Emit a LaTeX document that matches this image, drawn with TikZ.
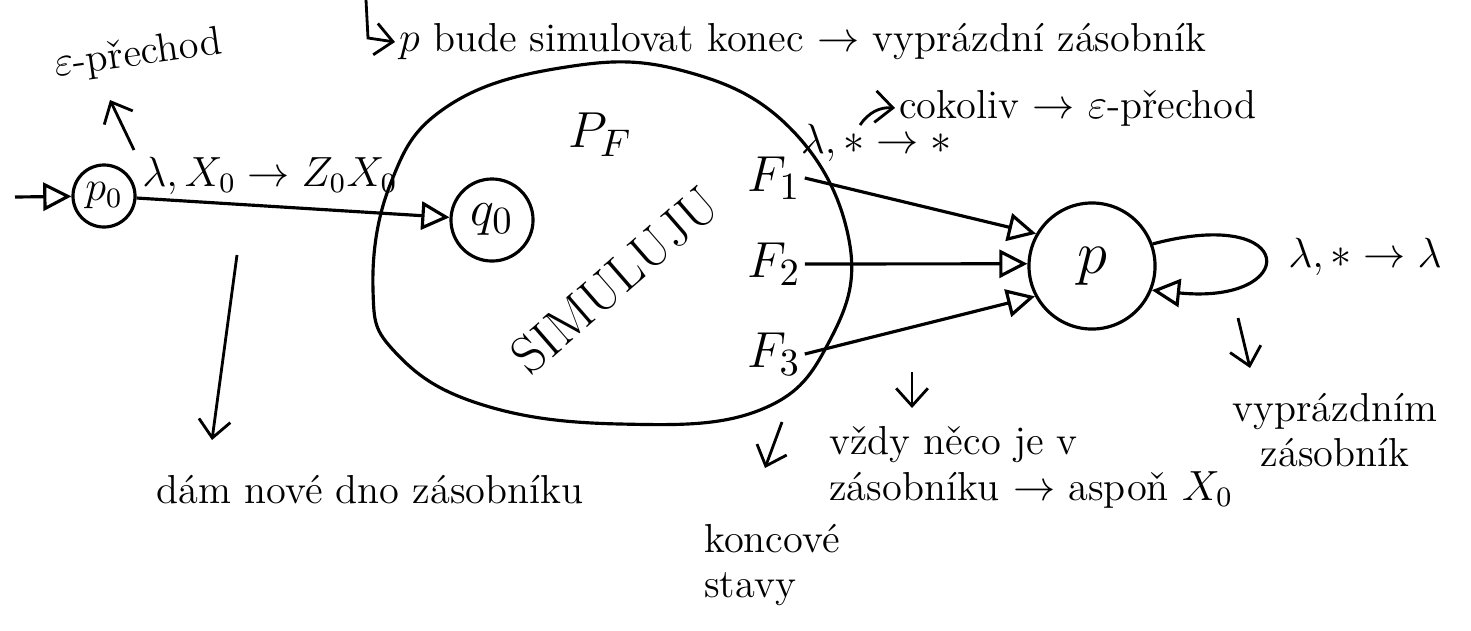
\documentclass[tikz,border=0pt]{standalone}
\usepackage{fontspec}
\usetikzlibrary{arrows.meta}
\begin{document}
\begin{tikzpicture}[x=0.01cm,y=-0.01cm,
  st/.style={draw, circle, line width=0.9pt, inner sep=0pt},
  tr/.style={-{Triangle[open,length=8pt,width=8pt]}, line width=0.9pt},
  note/.style={-{Straight Barb[length=5pt,width=9pt]}, line width=0.8pt},
  txt/.style={font=\fontsize{11.5}{13}\selectfont, inner sep=1pt},
  big/.style={font=\fontsize{15}{18}\selectfont, inner sep=1pt},
]
\useasboundingbox (0,0) rectangle (1471,630);
% blob
\draw[line width=0.9pt] plot[smooth cycle, tension=0.7] coordinates {
  (373,290) (390,185) (445,108) (560,68) (680,70) (790,128) (849,240)
  (830,340) (760,410) (620,424) (480,404) (395,352)};
% states
\node[st, minimum size=0.62cm, font=\fontsize{12}{14}\selectfont] (p0) at (104,196) {$p_0$};
\node[st, minimum size=0.82cm, font=\fontsize{15}{18}\selectfont] (q0) at (492,220) {$q_0$};
\node[st, minimum size=1.26cm, font=\fontsize{16}{18}\selectfont] (p) at (1092,266) {$p$};
\node[big] (PF) at (600,135) {$P_F$};
\node[big, rotate=41] (sim) at (615,280) {SIMULUJU};
\node[big] (F1) at (774,178) {$F_1$};
\node[big] (F2) at (774,264) {$F_2$};
\node[big] (F3) at (774,354) {$F_3$};
% transitions
\coordinate (s) at (15,197);
\draw[tr] (s) -- (p0);
\draw[tr] (p0) -- (q0);
\node[txt] (l1) at (270,176) {$\lambda, X_0 \rightarrow Z_0X_0$};
\draw[tr] (F1.east) -- (p.150);
\draw[tr] (F2.east) -- (p.178);
\draw[tr] (F3.east) -- (p.208);
\node[txt] (l2) at (876,143) {$\lambda, * \rightarrow *$};
\draw[tr] (p.20) .. controls (1300,205) and (1300,305) .. (p.-22);
\node[txt] (l3) at (1365,257) {$\lambda, * \rightarrow \lambda$};
% annotations
\node[txt, rotate=8] (eps) at (138,55) {$\varepsilon$-přechod};
\coordinate (e1) at (134,150);
\coordinate (e2) at (110,100);
\draw[note] (e1) -- (e2);
\coordinate (h1) at (366,0);
\coordinate (h2) at (368,38);
\node[txt, anchor=west] (top) at (395,42) {$p$ bude simulovat konec $\rightarrow$ vyprázdní zásobník};
\draw[note] (h1) -- (h2) -- (top.west);
\node[txt, anchor=west] (cok) at (895,108) {cokoliv $\rightarrow$ $\varepsilon$-přechod};
\coordinate (c1) at (860,125);
\draw[note] (c1) to[bend left=30] (cok.west);
\coordinate (d1) at (237,255);
\coordinate (d2) at (212,440);
\node[txt] (dno) at (370,490) {dám nové dno zásobníku};
\draw[note] (d1) -- (d2);
\coordinate (k1) at (782,422);
\coordinate (k2) at (765,468);
\node[txt, align=left] (kon) at (772,565) {koncové\\stavy};
\draw[note] (k1) -- (k2);
\coordinate (v1) at (912,372);
\coordinate (v2) at (912,408);
\node[txt, align=left, anchor=north west] (vz) at (825,422) {vždy něco je v\\zásobníku $\rightarrow$ aspoň $X_0$};
\draw[note] (v1) -- (v2);
\coordinate (w1) at (1238,318);
\coordinate (w2) at (1250,368);
\node[txt, align=center] (vy) at (1335,430) {vyprázdním\\zásobník};
\draw[note] (w1) -- (w2);
\end{tikzpicture}
\end{document}
